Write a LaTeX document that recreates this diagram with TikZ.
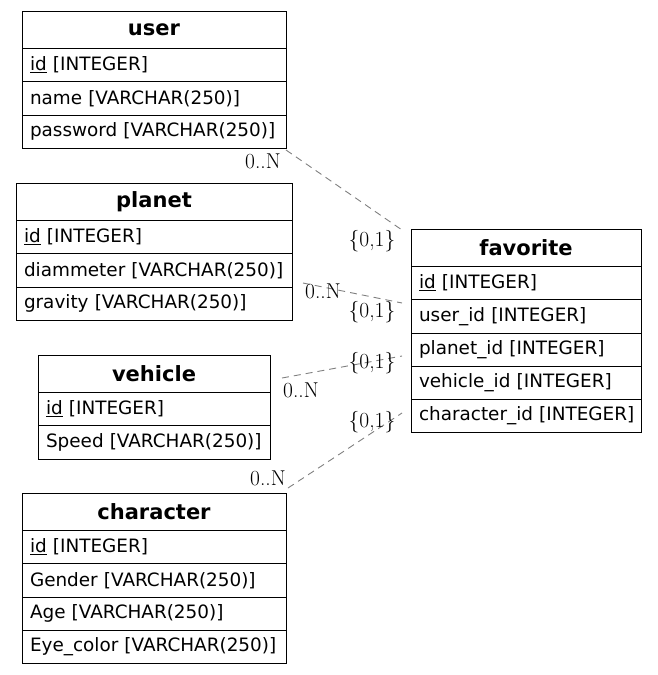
\documentclass[tikz,border=0pt]{standalone}
\usepackage{fontspec}
\newfontfamily\tblfont{DejaVu Sans}
\begin{document}
\begin{tikzpicture}[x=1pt,y=-1pt,
  hdr/.style={draw, line width=1pt, anchor=north west, minimum height=37.5,
    inner sep=0, outer sep=0, font=\tblfont\fontsize{21}{24}\selectfont\bfseries},
  fld/.style={draw, line width=1pt, anchor=north west, minimum height=33.25,
    inner xsep=8, inner ysep=0, outer sep=0, text width=#1, align=left,
    execute at begin node=\hbox\bgroup, execute at end node=\egroup,
    font=\tblfont\fontsize{18.4}{22}\selectfont},
  rel/.style={draw={rgb,255:red,128;green,128;blue,128}, dash pattern=on 7pt off 5pt, line width=0.9pt},
  card/.style={font=\fontsize{21.5}{24}\selectfont, inner sep=0}]
\useasboundingbox (0,0) rectangle (657,675);

% user
\node[hdr, minimum width=264] (user) at (22,11) {user};
\node[fld=248] (user-id) at (user.south west) {\underline{id} [INTEGER]};
\node[fld=248] (user-name) at (user-id.south west) {name [VARCHAR(250)]};
\node[fld=248] (user-pw) at (user-name.south west) {password [VARCHAR(250)]};

% planet
\node[hdr, minimum width=276] (planet) at (16,183) {planet};
\node[fld=260] (planet-id) at (planet.south west) {\underline{id} [INTEGER]};
\node[fld=260] (planet-diam) at (planet-id.south west) {diammeter [VARCHAR(250)]};
\node[fld=260] (planet-grav) at (planet-diam.south west) {gravity [VARCHAR(250)]};

% vehicle
\node[hdr, minimum width=232] (vehicle) at (38,355) {vehicle};
\node[fld=216] (vehicle-id) at (vehicle.south west) {\underline{id} [INTEGER]};
\node[fld=216] (vehicle-speed) at (vehicle-id.south west) {Speed [VARCHAR(250)]};

% character
\node[hdr, minimum width=264] (character) at (22,493) {character};
\node[fld=248] (char-id) at (character.south west) {\underline{id} [INTEGER]};
\node[fld=248] (char-gender) at (char-id.south west) {Gender [VARCHAR(250)]};
\node[fld=248] (char-age) at (char-gender.south west) {Age [VARCHAR(250)]};
\node[fld=248] (char-eye) at (char-age.south west) {Eye\_color [VARCHAR(250)]};

% favorite
\node[hdr, minimum width=230] (favorite) at (411,229) {favorite};
\node[fld=214] (fav-id) at (favorite.south west) {\underline{id} [INTEGER]};
\node[fld=214] (fav-user) at (fav-id.south west) {user\_id [INTEGER]};
\node[fld=214] (fav-planet) at (fav-user.south west) {planet\_id [INTEGER]};
\node[fld=214] (fav-vehicle) at (fav-planet.south west) {vehicle\_id [INTEGER]};
\node[fld=214] (fav-char) at (fav-vehicle.south west) {character\_id [INTEGER]};

% connector ends
\coordinate (u-from) at (286,150);
\coordinate (u-to) at (402,230);
\coordinate (p-from) at (303,283);
\coordinate (p-to) at (402,303);
\coordinate (v-from) at (282,378);
\coordinate (v-to) at (402,356);
\coordinate (c-from) at (288,488);
\coordinate (c-to) at (402,413);

\draw[rel] (u-from) -- (u-to);
\draw[rel] (p-from) -- (p-to);
\draw[rel] (v-from) -- (v-to);
\draw[rel] (c-from) -- (c-to);

% cardinalities
\node[card] (u-many) at (263,161) {0..N};
\node[card] (u-one) at (372,241) {\{0,1\}};
\node[card] (p-many) at (323,291) {0..N};
\node[card] (p-one) at (372,312) {\{0,1\}};
\node[card] (v-many) at (301,390) {0..N};
\node[card] (v-one) at (372,363) {\{0,1\}};
\node[card] (c-many) at (268,478) {0..N};
\node[card] (c-one) at (372,422) {\{0,1\}};
\end{tikzpicture}
\end{document}
